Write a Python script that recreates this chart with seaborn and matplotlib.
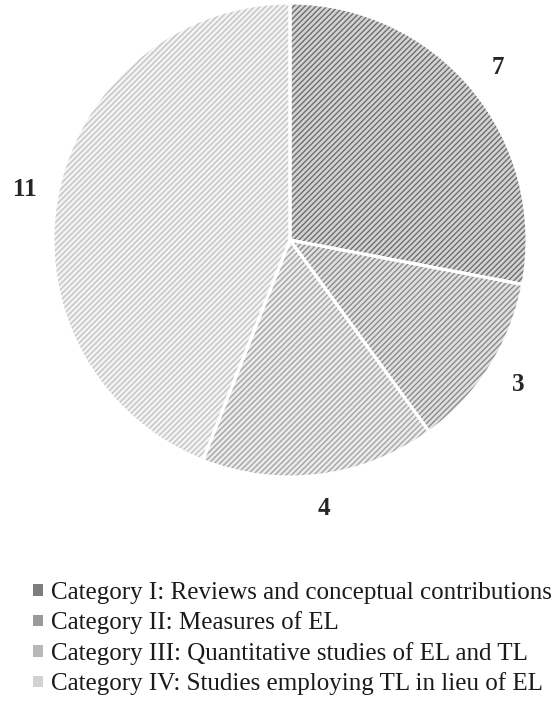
import matplotlib
matplotlib.use("Agg")
import seaborn as sns
import matplotlib.pyplot as plt
from matplotlib.patches import Patch

# --- Data ---
CATEGORIES = [
    "Category I: Reviews and conceptual contributions",
    "Category II: Measures of EL",
    "Category III: Quantitative studies of EL and TL",
    "Category IV: Studies employing TL in lieu of EL",
]
COUNTS = [7, 3, 4, 11]

# --- Style ---
FACE_COLORS = ["#d4d4d4", "#e0e0e0", "#ebebeb", "#f3f3f3"]
HATCH_COLORS = ["#6e6e6e", "#8a8a8a", "#a5a5a5", "#c4c4c4"]
LEGEND_COLORS = ["#7d7d7d", "#9a9a9a", "#b8b8b8", "#d2d2d2"]

sns.set_theme(style="white")
plt.rcParams['font.family'] = ['Liberation Serif', 'DejaVu Serif']
plt.rcParams['hatch.linewidth'] = 1.0

fig = plt.figure(figsize=(5.57, 7.12), dpi=100)
ax = fig.add_axes([53 / 557, 1 - 477 / 712, 474 / 557, 474 / 712])

# hatched wedges (hatch colour follows edgecolor)
wedges, texts = ax.pie(COUNTS, startangle=90, counterclock=False,
                       colors=FACE_COLORS, labels=[str(c) for c in COUNTS],
                       labeldistance=1.14,
                       wedgeprops=dict(linewidth=0, hatch="//////"),
                       textprops=dict(fontsize=18, fontweight='bold', color='#262626'))
for w, hc in zip(wedges, HATCH_COLORS):
    w.set_edgecolor(hc)
    w.set_linewidth(0)
for t in texts:
    t.set_ha('center')
    t.set_va('center')

# white separators on top
ax.pie(COUNTS, startangle=90, counterclock=False,
       colors=['none'] * len(COUNTS),
       wedgeprops=dict(linewidth=2.2, edgecolor='white', fill=False))
ax.set_aspect('equal')
ax.set_xlim(-1, 1)
ax.set_ylim(-1, 1)

handles = [Patch(facecolor=c, edgecolor='none') for c in LEGEND_COLORS]
fig.legend(handles, CATEGORIES, loc='upper left', bbox_to_anchor=(33 / 557, 1 - 582 / 712),
           frameon=False, fontsize=18, handlelength=0.38, handleheight=0.33,
           handletextpad=0.35, labelspacing=0.3, borderaxespad=0, borderpad=0,
           labelcolor='#1a1a1a')

fig.savefig("out.png", dpi=100)
